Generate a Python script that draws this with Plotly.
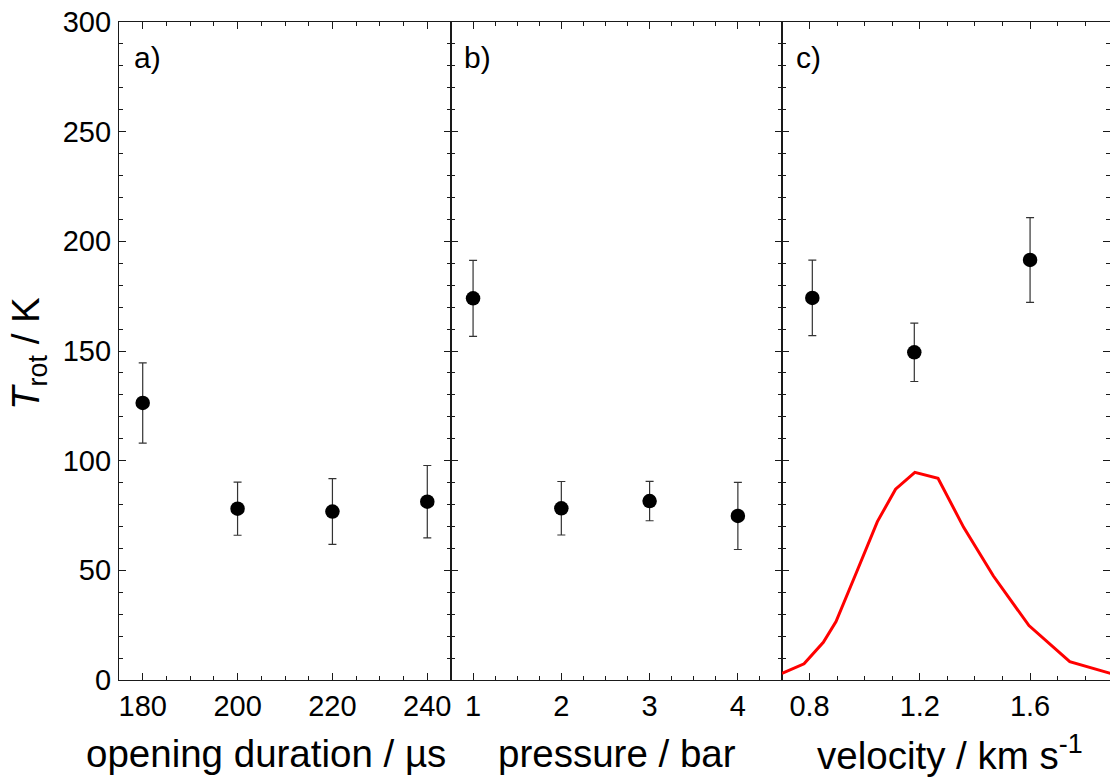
import plotly.graph_objects as go

# ---- data ----
dur = [180, 200, 220, 240]
T_dur = [126.3, 78.1, 76.8, 81.3]
err_dur = [18.3, 12.1, 15.0, 16.5]

pres = [1, 2, 3, 4]
T_pres = [174.0, 78.3, 81.6, 74.8]
err_pres = [17.3, 12.2, 9.0, 15.3]

vel = [0.81, 1.18, 1.60]
T_vel = [174.2, 149.4, 191.5]
err_vel = [17.2, 13.3, 19.3]

v_dist = [0.70, 0.78, 0.85, 0.896, 0.97, 1.046, 1.112, 1.182, 1.266, 1.359, 1.467, 1.596, 1.744, 1.90]
f_dist = [3.0, 7.4, 17.2, 26.6, 49.0, 72.2, 87.0, 94.7, 92.0, 69.6, 47.4, 24.8, 8.4, 2.7]

panel_labels = ["a)", "b)", "c)"]
x_titles = ["opening duration / µs", "pressure / bar", "velocity / km s<sup>-1</sup>"]
y_title = "<i>T</i><sub>rot</sub> / K"

# ---- layout constants (page pixels; body margin removed below) ----
W, H = 1110, 778
PAGE_L, PAGE_R, PAGE_T, PAGE_B = 119, 1110, 22, 680
ML, MT = PAGE_L, PAGE_T
MR = W - PAGE_R
MB = H - PAGE_B
PW = W - ML - MR
PH = H - MT - MB


def px_x(page_x):
    return (page_x - ML) / PW


def px_y(page_y):
    return (H - MB - page_y) / PH


div1 = px_x(451)
div2 = px_x(782)

FONT = "Arial, 'Liberation Sans', sans-serif"
LINEC = "#1a1a1a"

fig = go.Figure()

err_style = dict(type="data", thickness=1.2, width=4, color="#333333")
mk = dict(size=14.5, color="black")

fig.add_trace(go.Scatter(x=dur, y=T_dur, mode="markers", marker=mk,
                         error_y=dict(array=err_dur, **err_style),
                         xaxis="x", yaxis="y", showlegend=False, cliponaxis=False))
fig.add_trace(go.Scatter(x=pres, y=T_pres, mode="markers", marker=mk,
                         error_y=dict(array=err_pres, **err_style),
                         xaxis="x2", yaxis="y2", showlegend=False, cliponaxis=False))
fig.add_trace(go.Scatter(x=v_dist, y=f_dist, mode="lines",
                         line=dict(color="#ff0000", width=3),
                         xaxis="x3", yaxis="y3", showlegend=False))
fig.add_trace(go.Scatter(x=vel, y=T_vel, mode="markers", marker=mk,
                         error_y=dict(array=err_vel, **err_style),
                         xaxis="x3", yaxis="y3", showlegend=False, cliponaxis=False))

common_ax = dict(showgrid=False, zeroline=False, showline=True, linecolor=LINEC,
                 linewidth=1.3, mirror="ticks", ticks="inside", ticklen=7,
                 tickwidth=1.3, tickcolor=LINEC, ticklabeloverflow="allow",
                 tickfont=dict(family=FONT, size=29, color="black"))


def xax(dom, rng, dtick, tick0, mdtick, anchor):
    d = dict(common_ax)
    d.update(domain=dom, range=rng, dtick=dtick, tick0=tick0, anchor=anchor,
             ticklabelstandoff=0,
             minor=dict(ticks="inside", ticklen=4, dtick=mdtick, tick0=tick0,
                        tickcolor=LINEC, tickwidth=1.2))
    return d


def yax(anchor, labels):
    d = dict(common_ax)
    d.update(domain=[0, 1], range=[0, 300], dtick=50, tick0=0, anchor=anchor,
             showticklabels=labels, ticklabelstandoff=1,
             minor=dict(ticks="inside", ticklen=4, dtick=10, tick0=0,
                        tickcolor=LINEC, tickwidth=1.2))
    return d


fig.update_layout(
    width=W, height=H,
    margin=dict(l=ML, r=MR, t=MT, b=MB),
    plot_bgcolor="white", paper_bgcolor="white",
    font=dict(family=FONT, color="black"),
    xaxis=xax([0, div1], [175, 245], 20, 180, 5, "y"),
    xaxis2=xax([div1, div2], [0.75, 4.5], 1, 1, 0.25, "y2"),
    xaxis3=xax([div2, 1], [0.7, 1.89], 0.4, 0.8, 0.1, "y3"),
    yaxis=yax("x", True),
    yaxis2=yax("x2", False),
    yaxis3=yax("x3", False),
)

ann = []
for lab, xp in zip(panel_labels, [132, 462, 794]):
    ann.append(dict(text=lab, x=px_x(xp), y=px_y(58), xref="paper", yref="paper",
                    xanchor="left", yanchor="middle", showarrow=False,
                    font=dict(family=FONT, size=30, color="black")))
for t, xc in zip(x_titles, [266, 617, 950]):
    ann.append(dict(text=t, x=px_x(xc), y=px_y(753), xref="paper", yref="paper",
                    xanchor="center", yanchor="middle", showarrow=False,
                    font=dict(family=FONT, size=38.5, color="black")))
ann.append(dict(text=y_title, x=px_x(28), y=px_y(354), xref="paper", yref="paper",
                xanchor="center", yanchor="middle", showarrow=False, textangle=-90,
                font=dict(family=FONT, size=38.5, color="black")))
fig.update_layout(annotations=ann)

fig.write_html(
    "out.html",
    config={"displayModeBar": False},
    post_script="document.body.style.margin='0';document.body.style.overflow='hidden';",
)
